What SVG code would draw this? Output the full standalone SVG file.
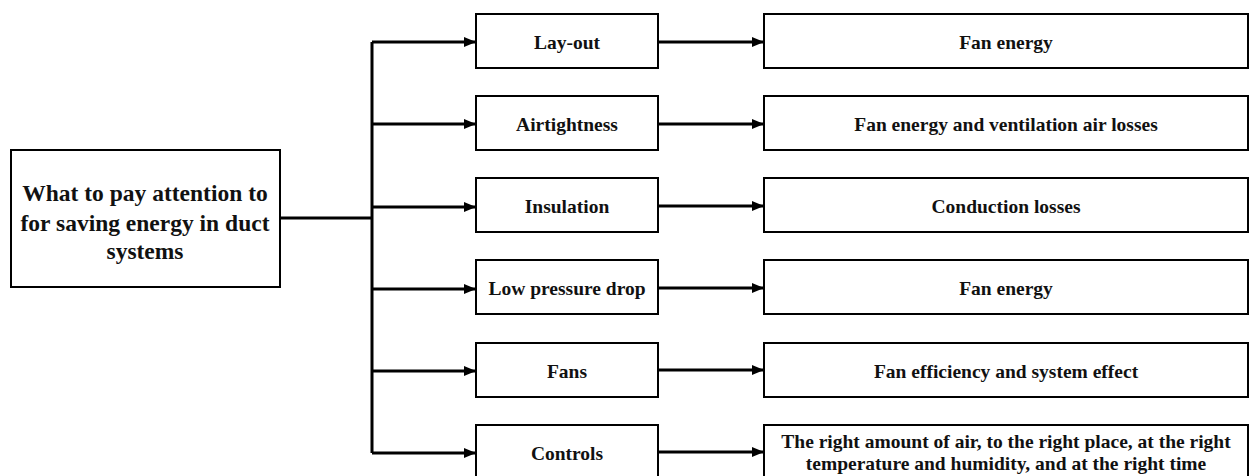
<svg xmlns="http://www.w3.org/2000/svg" width="1249" height="476" viewBox="0 0 1249 476">
<style>
.box{fill:#fff;stroke:#000;stroke-width:2}
.ln{fill:none;stroke:#000;stroke-width:3}
text{font-family:"Liberation Serif","Times New Roman",serif;font-weight:bold;fill:#111;text-anchor:middle}
.m{font-size:19.5px}
.b{font-size:23.5px}
.r{font-size:19.5px}
</style>
<defs>
<marker id="ah" markerWidth="12" markerHeight="10" refX="11" refY="5" orient="auto" markerUnits="userSpaceOnUse">
<path d="M0,0 L12,5 L0,10 Z" fill="#000"/>
</marker>
</defs>
<rect width="1249" height="476" fill="#fff"/>
<g id="connectors">
<path class="ln" d="M280,218 H372"/>
<path class="ln" d="M372,42 V453"/>
<path class="ln" d="M372,42 H475" marker-end="url(#ah)"/>
<path class="ln" d="M372,124 H475" marker-end="url(#ah)"/>
<path class="ln" d="M372,207 H475" marker-end="url(#ah)"/>
<path class="ln" d="M372,289 H475" marker-end="url(#ah)"/>
<path class="ln" d="M372,371 H475" marker-end="url(#ah)"/>
<path class="ln" d="M372,453 H475" marker-end="url(#ah)"/>
<path class="ln" d="M658,42 H763" marker-end="url(#ah)"/>
<path class="ln" d="M658,124 H763" marker-end="url(#ah)"/>
<path class="ln" d="M658,206 H763" marker-end="url(#ah)"/>
<path class="ln" d="M658,288 H763" marker-end="url(#ah)"/>
<path class="ln" d="M658,370 H763" marker-end="url(#ah)"/>
<path class="ln" d="M658,452 H763" marker-end="url(#ah)"/>
</g>
<g id="main">
<rect class="box" x="11" y="150" width="269" height="137"/>
<text class="b" x="145" y="201">What to pay attention to</text>
<text class="b" x="145" y="231">for saving energy in duct</text>
<text class="b" x="145" y="259">systems</text>
</g>
<g id="layout"><rect class="box" x="476" y="14" width="182" height="54"/><text class="m" x="567" y="49">Lay-out</text></g>
<g id="airtightness"><rect class="box" x="476" y="96" width="182" height="54"/><text class="m" x="567" y="131">Airtightness</text></g>
<g id="insulation"><rect class="box" x="476" y="178" width="182" height="54"/><text class="m" x="567" y="213">Insulation</text></g>
<g id="lowpressure"><rect class="box" x="476" y="260" width="182" height="54"/><text class="m" x="567" y="295">Low pressure drop</text></g>
<g id="fans"><rect class="box" x="476" y="343" width="182" height="54"/><text class="m" x="567" y="378">Fans</text></g>
<g id="controls"><rect class="box" x="476" y="425" width="182" height="54"/><text class="m" x="567" y="460">Controls</text></g>
<g id="r1"><rect class="box" x="764" y="14" width="484" height="54"/><text class="m" x="1006" y="49">Fan energy</text></g>
<g id="r2"><rect class="box" x="764" y="96" width="484" height="54"/><text class="m" x="1006" y="131">Fan energy and ventilation air losses</text></g>
<g id="r3"><rect class="box" x="764" y="178" width="484" height="54"/><text class="m" x="1006" y="213">Conduction losses</text></g>
<g id="r4"><rect class="box" x="764" y="260" width="484" height="54"/><text class="m" x="1006" y="295">Fan energy</text></g>
<g id="r5"><rect class="box" x="764" y="343" width="484" height="54"/><text class="m" x="1006" y="378">Fan efficiency and system effect</text></g>
<g id="r6"><rect class="box" x="764" y="425" width="484" height="54"/><text class="r" x="1006" y="448">The right amount of air, to the right place, at the right</text><text class="r" x="1006" y="470">temperature and humidity, and at the right time</text></g>
</svg>
